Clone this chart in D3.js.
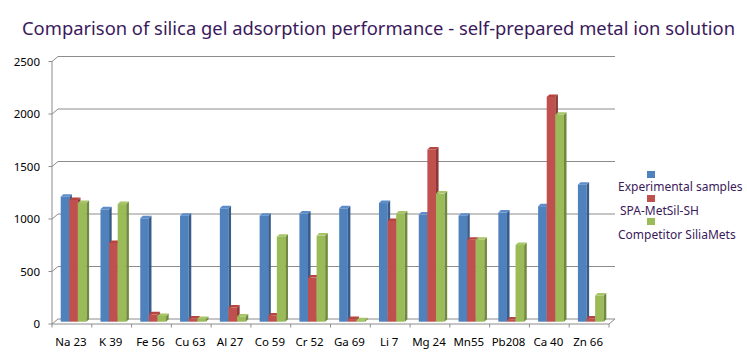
<!DOCTYPE html>
<html>
<head>
<meta charset="utf-8">
<script src="https://cdn.jsdelivr.net/npm/d3@7"></script>
<style>
  html, body { margin: 0; padding: 0; background: #fff; }
  svg { display: block; }
  text { font-family: "Noto Sans", "Open Sans", sans-serif; }
</style>
</head>
<body>
<svg id="chart" width="747" height="356"></svg>
<script>
// ---- data ----
const title = "Comparison of silica gel adsorption performance - self-prepared metal ion solution";
const categories = ["Na 23", "K 39", "Fe 56", "Cu 63", "Al 27", "Co 59", "Cr 52", "Ga 69", "Li 7", "Mg 24", "Mn55", "Pb208", "Ca 40", "Zn 66"];
const seriesNames = ["Experimental samples", "SPA-MetSil-SH", "Competitor SiliaMets"];
const experimental = [1190, 1070, 985, 1010, 1080, 1010, 1030, 1080, 1130, 1020, 1010, 1040, 1100, 1305];
const spaMetSil   = [1160, 750, 70, 30, 135, 60, 420, 25, 960, 1640, 780, 20, 2140, 30];
const competitor  = [1130, 1120, 55, 25, 50, 810, 820, 15, 1030, 1220, 780, 730, 1970, 250];
const yTicks = [0, 500, 1000, 1500, 2000, 2500];

const seriesValues = [experimental, spaMetSil, competitor];
const fronts = ["#4f81bd", "#c0504d", "#9bbb59"];
const sides  = ["#385d8a", "#8c3836", "#6f8a3c"];
const tops   = ["#5d8ccb", "#b8443f", "#a7c566"];

// ---- layout ----
const svg = d3.select("#chart");
const X0 = 52, X1 = 609;          // front floor edge
const DX = 6, DY = -5;            // wall depth offset
const y = d3.scaleLinear().domain([0, 2500]).range([324, 61.5]);
const x = d3.scaleBand().domain(categories).range([X0, X1]).paddingInner(0).paddingOuter(0);
const barW = 8.6, bdx = 2.6, bdy = -2.5;
const barOff = 8.7;               // first bar offset inside band
const baseShift = -2.3;           // bars sit slightly behind front edge

// title
svg.append("text")
  .attr("x", 22).attr("y", 35)
  .attr("font-size", 17.5)
  .attr("fill", "#3b1a5c")
  .attr("textLength", 713)
  .attr("lengthAdjust", "spacingAndGlyphs")
  .text(title);

const grid = svg.append("g").attr("stroke", "#8c8c8c").attr("stroke-width", 1).attr("fill", "none");

// back wall gridlines (with slanted segment on side wall)
yTicks.forEach(v => {
  const yf = y(v), yb = y(v) + DY;
  grid.append("path").attr("d", `M${X0},${yf}L${X0 + DX},${yb}L${X1 + DX},${yb}`);
});
// left front vertical line
grid.append("line").attr("x1", X0).attr("x2", X0).attr("y1", y(0)).attr("y2", y(2500));
// floor front + right diagonal
grid.append("path").attr("d", `M${X0},${y(0)}L${X1},${y(0)}L${X1 + DX},${y(0) + DY}`);
// category ticks
d3.range(categories.length + 1).forEach(i => {
  const xx = X0 + i * x.bandwidth();
  grid.append("line").attr("x1", xx).attr("x2", xx).attr("y1", y(0)).attr("y2", y(0) + 3.5);
});
// y ticks (small)
yTicks.forEach(v => {
  grid.append("line").attr("x1", X0 - 3.5).attr("x2", X0).attr("y1", y(v)).attr("y2", y(v));
});

// y labels
svg.append("g").selectAll("text").data(yTicks).join("text")
  .attr("x", 40).attr("y", d => y(d) + 4)
  .attr("text-anchor", "end").attr("font-size", 11.5).attr("fill", "#000")
  .text(d => d);

// bars
const bars = svg.append("g");
categories.forEach((c, i) => {
  seriesValues.forEach((vals, s) => {
    const v = vals[i];
    const xl = x(c) + barOff + s * barW;
    const xr = xl + barW;
    const yb = y(0) + baseShift;
    const yt = y(v) + baseShift;
    const g = bars.append("g");
    g.append("rect").attr("x", xl).attr("y", yt).attr("width", barW).attr("height", yb - yt).attr("fill", fronts[s]);
    g.append("path").attr("d", `M${xr},${yt}L${xr + bdx},${yt + bdy}L${xr + bdx},${yb + bdy}L${xr},${yb}Z`).attr("fill", sides[s]);
    g.append("path").attr("d", `M${xl},${yt}L${xl + bdx},${yt + bdy}L${xr + bdx},${yt + bdy}L${xr},${yt}Z`).attr("fill", tops[s]);
  });
});

// category labels
svg.append("g").selectAll("text").data(categories).join("text")
  .attr("x", d => x(d) + x.bandwidth() / 2 - 1)
  .attr("y", 346)
  .attr("text-anchor", "middle").attr("font-size", 11.5).attr("fill", "#000")
  .text(d => d);

// legend
const legY = [171, 195, 218];
const legText = [186, 210, 234];
const legTx = [618, 620, 618];
const leg = svg.append("g");
seriesNames.forEach((n, s) => {
  leg.append("rect").attr("x", 647).attr("y", legY[s]).attr("width", 8).attr("height", 7).attr("fill", fronts[s]);
  leg.append("text").attr("x", legTx[s]).attr("y", legText[s] + 4.5)
    .attr("font-size", 12).attr("fill", "#3b1a5c").text(n);
});
</script>
</body>
</html>
